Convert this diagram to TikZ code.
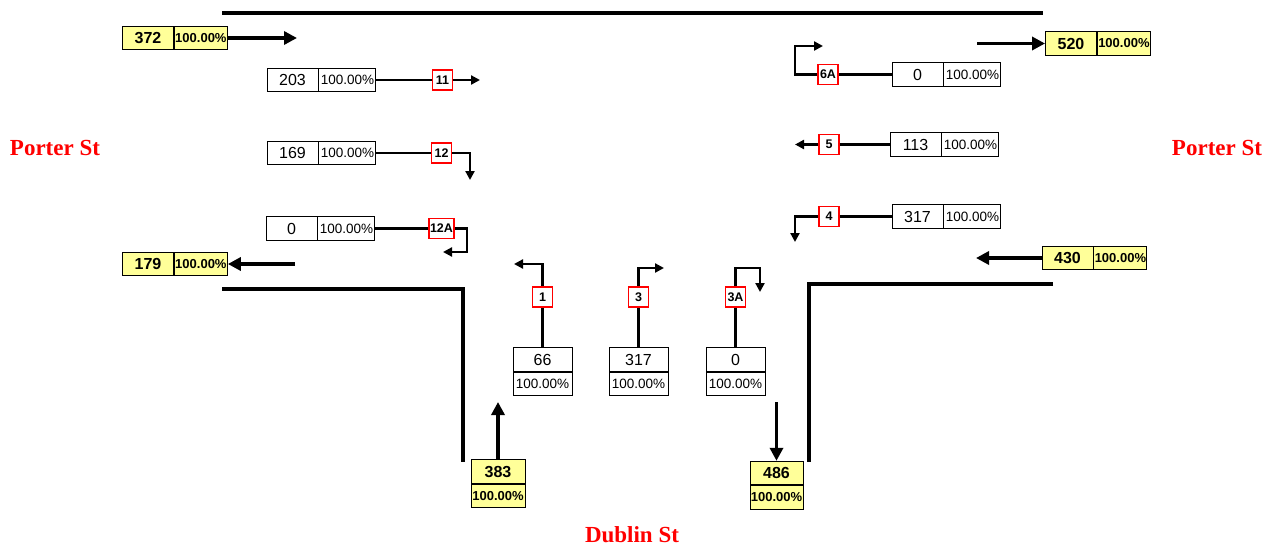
\documentclass[tikz,border=0pt]{standalone}
\usepackage{fontspec}
\setmainfont{Liberation Sans}
\newfontfamily\viafont{Liberation Serif}
\usetikzlibrary{positioning,arrows.meta,backgrounds}
\definecolor{giallino}{RGB}{255,255,153}

\begin{document}
\begin{tikzpicture}[
    x=1pt,y=-1pt,
    cella/.style={draw=black,line width=0.9pt,inner sep=0pt,minimum height=23.5pt},
    numero/.style={cella,minimum width=51pt,font=\fontsize{16}{16}\selectfont},
    perc/.style={cella,minimum width=57pt,font=\fontsize{13.5}{13.5}\selectfont},
    vnum/.style={cella,minimum width=59pt,font=\fontsize{16}{16}\selectfont},
    vperc/.style={cella,minimum width=59pt,font=\fontsize{13.5}{13.5}\selectfont},
    giallo/.style={fill=giallino,font=\fontsize{16}{16}\selectfont\bfseries},
    giallop/.style={fill=giallino,font=\fontsize{13}{13}\selectfont\bfseries},
    mossa/.style={draw=red,line width=1.2pt,fill=white,inner sep=1pt,
      minimum width=20pt,minimum height=20pt,font=\fontsize{12.5}{12.5}\selectfont\bfseries},
    linea/.style={draw=black,line width=2.2pt,-{Triangle[length=9pt,width=9pt]}},
    flusso/.style={draw=black,line width=3.8pt,-{Triangle[length=13pt,width=13pt]}},
    strada/.style={draw=black,line width=4pt},
    via/.style={text=red,font=\viafont\fontsize{23}{23}\selectfont\bfseries}]

  \useasboundingbox (0,0) rectangle (1277,546);

  % ---- bordi delle strade ----------------------------------------------
  \draw[strada] (222,13) -- (1043,13);
  \draw[strada] (222,289) -- (463,289) -- (463,462);
  \draw[strada] (1053,284) -- (809,284) -- (809,462);

  % ---- Porter St, lato ovest -------------------------------------------
  \node[numero,giallo]  (n372) at (148,38) {372};
  \node[perc,giallop,minimum width=53pt,right=0pt of n372] (p372) {100.00\%};
  \node[numero,giallo]  (n179) at (148,264) {179};
  \node[perc,giallop,minimum width=53pt,right=0pt of n179] (p179) {100.00\%};

  \node[numero] (n11)  at (292.5,80)  {203};
  \node[numero] (n12)  at (292.5,153) {169};
  \node[numero] (n12a) at (291.5,228.5) {0};

  % ---- Porter St, lato est ---------------------------------------------
  \node[numero,giallo]  (n520) at (1071,43.5) {520};
  \node[perc,giallop,minimum width=53pt,right=0pt of n520] (p520) {100.00\%};
  \node[numero,giallo]  (n430) at (1067.5,258) {430};
  \node[perc,giallop,minimum width=53pt,right=0pt of n430] (p430) {100.00\%};

  \node[numero] (n6a) at (917.5,74.5)  {0};
  \node[numero] (n5)  at (915.5,144.5) {113};
  \node[numero] (n4)  at (917.5,216.5) {317};

  % percentuali delle corsie
  \foreach \c in {11,12,12a,6a,5,4}
    \node[perc,right=0pt of n\c] (p\c) {100.00\%};

  % ---- Dublin St -------------------------------------------------------
  \node[vnum] (n1)  at (542.5,359.5) {66};
  \node[vnum] (n3)  at (638.5,359.5) {317};
  \node[vnum] (n3a) at (735.5,359.5) {0};
  \foreach \c in {1,3,3a}
    \node[vperc,below=0pt of n\c] (p\c) {100.00\%};

  \node[vnum,giallo,minimum width=54pt] (n383) at (498,471.5) {383};
  \node[vperc,giallop,minimum width=54pt,below=0pt of n383] (p383) {100.00\%};
  \node[vnum,giallo,minimum width=53pt] (n486) at (776.5,473) {486};
  \node[vperc,giallop,minimum width=53pt,below=0pt of n486] (p486) {100.00\%};

  % ---- numeri delle manovre --------------------------------------------
  \node[mossa] (m11)  at (442.5,80)  {11};
  \node[mossa] (m12)  at (441.5,153) {12};
  \node[mossa] (m12a) at (441.5,228.5) {12A};
  \node[mossa] (m6a)  at (828,74.5)   {6A};
  \node[mossa] (m5)   at (829,144.5)  {5};
  \node[mossa] (m4)   at (829,216.5)  {4};
  \node[mossa] (m1)   at (542.5,297)  {1};
  \node[mossa] (m3)   at (638.5,297)  {3};
  \node[mossa] (m3a)  at (735.5,297)  {3A};

  % ---- estremi delle frecce --------------------------------------------
  \coordinate (e11)  at (480,80);
  \coordinate (e12)  at (470,180);
  \coordinate (k12a) at (467,252);
  \coordinate (e12a) at (443,252);
  \coordinate (k6a)  at (795,46);
  \coordinate (e6a)  at (823,46);
  \coordinate (e5)   at (795,144.5);
  \coordinate (e4)   at (795,242);
  \coordinate (e1)   at (514,264);
  \coordinate (e3)   at (664,268);
  \coordinate (k3a)  at (760,268);
  \coordinate (e3a)  at (760,292);

  \coordinate (e372) at (297,38);
  \coordinate (s179) at (295,264);
  \coordinate (s520) at (977,43.5);
  \coordinate (e430) at (976,258);
  \coordinate (e383) at (498,402);
  \coordinate (s486) at (776.5,402);

  % ---- manovre (sotto le etichette) ------------------------------------
  \begin{pgfonlayer}{background}
  \draw[linea] (p11)  -- (m11) -- (e11);
  \draw[linea] (p12)  -- (m12) -| (e12);
  \draw[linea] (p12a) -- (m12a) -| (k12a) -- (e12a);
  \draw[linea] (n6a)  -- (m6a) -| (k6a) -- (e6a);
  \draw[linea] (n5)   -- (m5) -- (e5);
  \draw[linea] (n4)   -- (m4) -| (e4);
  \draw[linea] (n1)   -- (m1) |- (e1);
  \draw[linea] (n3)   -- (m3) |- (e3);
  \draw[linea] (n3a)  -- (m3a) |- (k3a) -- (e3a);
  \end{pgfonlayer}

  % ---- flussi in entrata e in uscita -----------------------------------
  \draw[flusso] (p372) -- (e372);
  \draw[flusso] (s179) -- (p179);
  \draw[flusso] (s520) -- (n520);
  \draw[flusso] (n430) -- (e430);
  \draw[flusso] (n383) -- (e383);
  \draw[flusso] (s486) -- (n486);

  % ---- nomi delle strade -----------------------------------------------
  \node[via] (ovest) at (55,148)   {Porter St};
  \node[via] (est)   at (1217,148) {Porter St};
  \node[via] (sud)   at (632,535)  {Dublin St};

\end{tikzpicture}
\end{document}
